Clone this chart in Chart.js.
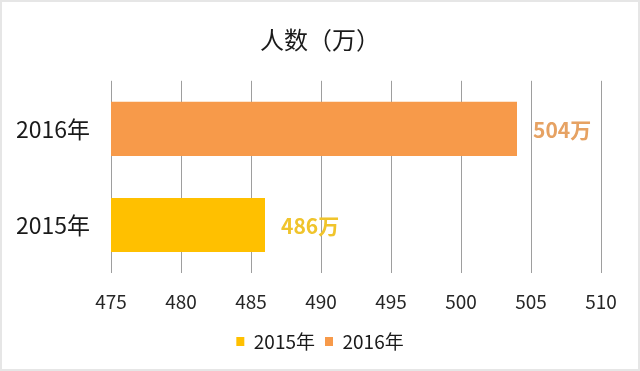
<!DOCTYPE html>
<html>
<head>
<meta charset="utf-8">
<script src="https://cdn.jsdelivr.net/npm/chart.js@4/dist/chart.umd.min.js"></script>
<style>
  html, body { margin: 0; padding: 0; background: #fff; }
  #wrap { width: 640px; height: 371px; position: relative; }
</style>
</head>
<body>
<div id="wrap"><canvas id="c" width="640" height="371"></canvas></div>
<script>
const categories = ['2016年', '2015年'];
const seriesNames = ['2015年', '2016年'];
const values2015 = [null, 486];
const values2016 = [504, null];
const valueSuffix = '万';
const titleText = '人数（万）';
const xMin = 475, xMax = 510, xStep = 5;

const FONT = "'Noto Sans CJK SC', 'Noto Sans', sans-serif";
const barColors = ['#FFC000', '#F79A4A'];
const labelColors = ['#F0C42C', '#E6A263'];

const frame = {
  id: 'frame',
  beforeDraw(chart) {
    const ctx = chart.ctx;
    ctx.save();
    ctx.fillStyle = '#ffffff';
    ctx.fillRect(0, 0, chart.width, chart.height);
    ctx.strokeStyle = '#e6e6e6';
    ctx.lineWidth = 2;
    ctx.strokeRect(1, 1, chart.width - 2, chart.height - 2);
    ctx.restore();
  }
};

const valueLabels = {
  id: 'valueLabels',
  afterDatasetsDraw(chart) {
    const ctx = chart.ctx;
    ctx.save();
    chart.data.datasets.forEach((ds, di) => {
      const meta = chart.getDatasetMeta(di);
      meta.data.forEach((el, i) => {
        const v = ds.data[i];
        if (v === null || v === undefined) return;
        ctx.font = 'bold 21px ' + FONT;
        ctx.fillStyle = labelColors[di];
        ctx.textAlign = 'left';
        ctx.textBaseline = 'middle';
        ctx.fillText(v + valueSuffix, el.x + 16, el.y + 1);
      });
    });
    ctx.restore();
  }
};

new Chart(document.getElementById('c'), {
  type: 'bar',
  data: {
    labels: categories,
    datasets: [
      { label: seriesNames[0], data: values2015, backgroundColor: barColors[0], borderWidth: 0 },
      { label: seriesNames[1], data: values2016, backgroundColor: barColors[1], borderWidth: 0 }
    ]
  },
  options: {
    indexAxis: 'y',
    responsive: false,
    animation: false,
    devicePixelRatio: 1,
    grouped: false,
    categoryPercentage: 1,
    barPercentage: 0.5625,
    layout: { padding: { left: 0, right: 0, top: 0, bottom: 10 } },
    plugins: {
      title: {
        display: true,
        text: titleText,
        color: '#1a1a1a',
        font: { family: FONT, size: 24, weight: 'normal', lineHeight: 1.2 },
        padding: { top: 25, bottom: 27 }
      },
      legend: {
        display: true,
        position: 'bottom',
        labels: {
          color: '#1a1a1a',
          font: { family: FONT, size: 19 },
          boxWidth: 8,
          boxHeight: 9,
          padding: 10
        }
      },
      tooltip: { enabled: false }
    },
    scales: {
      x: {
        type: 'linear',
        min: xMin,
        max: xMax,
        ticks: {
          stepSize: xStep,
          color: '#262626',
          font: { family: FONT, size: 19 },
          padding: 17,
          maxRotation: 0
        },
        grid: { color: '#9e9e9e', lineWidth: 1, drawTicks: false },
        border: { display: false },
        afterFit(scale) {
          scale.height = 49;
          scale.paddingLeft = 0;
          scale.paddingRight = 39;
        }
      },
      y: {
        ticks: {
          color: '#1a1a1a',
          font: { family: FONT, size: 23 },
          padding: 21
        },
        grid: { display: false, drawTicks: false },
        border: { display: false },
        afterFit(scale) {
          scale.width = 111;
          scale.paddingTop = 0;
          scale.paddingBottom = 0;
        }
      }
    }
  },
  plugins: [frame, valueLabels]
});
</script>
</body>
</html>
